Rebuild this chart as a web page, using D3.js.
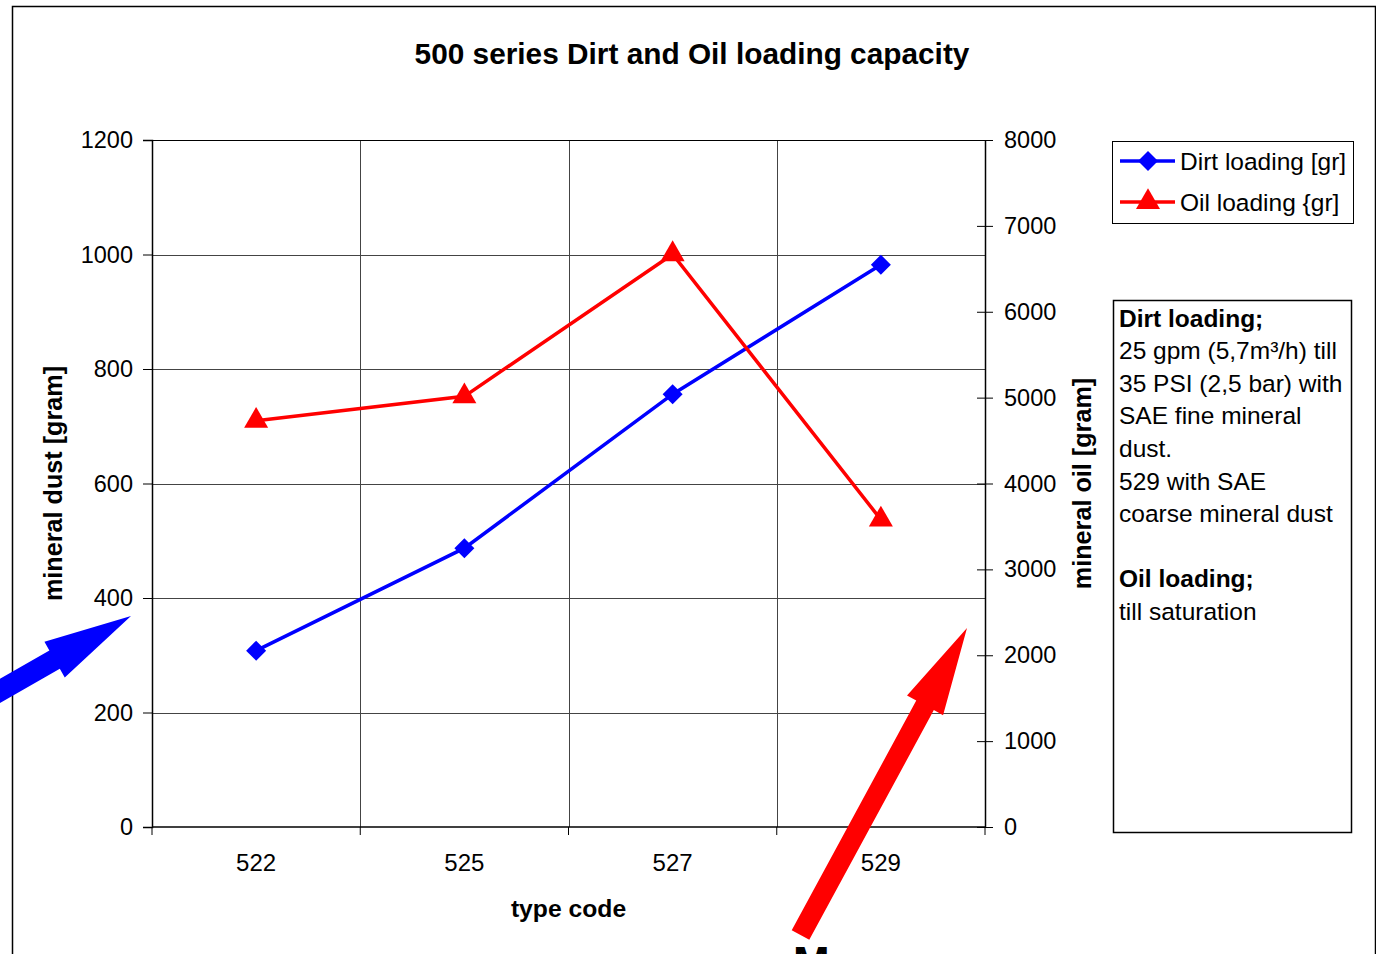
<!DOCTYPE html>
<html>
<head>
<meta charset="utf-8">
<script src="https://cdn.jsdelivr.net/npm/d3@7"></script>
<style>
  body { margin: 0; background: #fff; }
  svg { display: block; font-family: "Liberation Sans", Arial, sans-serif; }
</style>
</head>
<body>
<script>
// Chart data
const typeCodes = ["522", "525", "527", "529"];
const dirtLoading = [308, 487, 756, 982];     // grams, left axis
const oilLoading = [4730, 5015, 6670, 3580];  // grams, right axis
const leftTicks = [0, 200, 400, 600, 800, 1000, 1200];
const rightTicks = [0, 1000, 2000, 3000, 4000, 5000, 6000, 7000, 8000];
const noteLines = [
  { text: "Dirt loading;", bold: true },
  { text: "25 gpm (5,7m\u00b3/h) till", bold: false },
  { text: "35 PSI (2,5 bar) with", bold: false },
  { text: "SAE fine mineral", bold: false },
  { text: "dust.", bold: false },
  { text: "529 with SAE", bold: false },
  { text: "coarse mineral dust", bold: false },
  { text: "", bold: false },
  { text: "Oil loading;", bold: true },
  { text: "till saturation", bold: false }
];

const width = 1376;
const height = 954;
const plot = { left: 152, right: 985, top: 140, bottom: 827 };

const svg = d3.select("body").append("svg")
  .attr("width", width)
  .attr("height", height);

// outer chart frame
svg.append("rect")
  .attr("x", 12.5).attr("y", 6.5)
  .attr("width", 1363).attr("height", 1000)
  .attr("fill", "#fff")
  .attr("stroke", "#000").attr("stroke-width", 1.5);

// scales
const x = d3.scaleBand().domain(typeCodes).range([plot.left, plot.right]);
const yLeft = d3.scaleLinear().domain([0, 1200]).range([plot.bottom, plot.top]);
const yRight = d3.scaleLinear().domain([0, 8000]).range([plot.bottom, plot.top]);
const fmt = d3.format("d");

// gridlines
svg.append("g")
  .selectAll("line")
  .data(leftTicks.filter(d => d > 0))
  .enter().append("line")
  .attr("x1", plot.left).attr("x2", plot.right)
  .attr("y1", d => Math.round(yLeft(d)) + 0.5)
  .attr("y2", d => Math.round(yLeft(d)) + 0.5)
  .attr("stroke", "#444").attr("stroke-width", 1);

svg.append("g")
  .selectAll("line")
  .data(typeCodes.slice(1))
  .enter().append("line")
  .attr("x1", d => Math.round(x(d)) + 0.5)
  .attr("x2", d => Math.round(x(d)) + 0.5)
  .attr("y1", plot.top).attr("y2", plot.bottom)
  .attr("stroke", "#444").attr("stroke-width", 1);

// left axis
const leftAxis = svg.append("g")
  .attr("transform", `translate(${plot.left},0)`)
  .call(d3.axisLeft(yLeft).tickValues(leftTicks).tickFormat(fmt).tickSize(9).tickPadding(10));
leftAxis.select(".domain").attr("stroke", "#000").attr("stroke-width", 1.5);
leftAxis.selectAll("text").style("font-size", "23.5px").attr("fill", "#000");
leftAxis.selectAll(".tick line").attr("stroke", "#000");

// top border of plot
svg.append("line")
  .attr("x1", plot.left).attr("x2", plot.right)
  .attr("y1", plot.top + 0.5).attr("y2", plot.top + 0.5)
  .attr("stroke", "#000").attr("stroke-width", 1);

// right axis (ticks cross the line)
const rightAxis = svg.append("g")
  .attr("transform", `translate(${plot.right},0)`)
  .call(d3.axisRight(yRight).tickValues(rightTicks).tickFormat(fmt).tickSize(0).tickPadding(19));
rightAxis.select(".domain").attr("stroke", "#000").attr("stroke-width", 1.5);
rightAxis.selectAll("text").style("font-size", "23.5px").attr("fill", "#000");
rightAxis.selectAll(".tick").append("line")
  .attr("x1", -8).attr("x2", 8)
  .attr("stroke", "#000");

// bottom axis with ticks at category boundaries
const bottomAxis = svg.append("g")
  .attr("transform", `translate(0,${plot.bottom})`);
bottomAxis.append("line")
  .attr("x1", plot.left).attr("x2", plot.right)
  .attr("stroke", "#000").attr("stroke-width", 1.5);
bottomAxis.selectAll(".bt")
  .data(typeCodes.concat(["end"]))
  .enter().append("line")
  .attr("x1", (d, i) => i < typeCodes.length ? x(d) : plot.right)
  .attr("x2", (d, i) => i < typeCodes.length ? x(d) : plot.right)
  .attr("y1", 0).attr("y2", 8)
  .attr("stroke", "#000");
bottomAxis.selectAll(".lbl")
  .data(typeCodes)
  .enter().append("text")
  .attr("x", d => x(d) + x.bandwidth() / 2)
  .attr("y", 44)
  .attr("text-anchor", "middle")
  .style("font-size", "24px")
  .text(d => d);

// titles
svg.append("text")
  .attr("x", 692).attr("y", 64)
  .attr("text-anchor", "middle")
  .style("font-size", "29.8px").style("font-weight", "bold")
  .text("500 series Dirt and Oil loading capacity");

svg.append("text")
  .attr("x", (plot.left + plot.right) / 2).attr("y", 917)
  .attr("text-anchor", "middle")
  .style("font-size", "24.7px").style("font-weight", "bold")
  .text("type code");

svg.append("text")
  .attr("transform", `translate(62,${(plot.top + plot.bottom) / 2}) rotate(-90)`)
  .attr("text-anchor", "middle")
  .style("font-size", "25.2px").style("font-weight", "bold")
  .text("mineral dust [gram]");

svg.append("text")
  .attr("transform", `translate(1091,${(plot.top + plot.bottom) / 2}) rotate(-90)`)
  .attr("text-anchor", "middle")
  .style("font-size", "25.2px").style("font-weight", "bold")
  .text("mineral oil [gram]");

// series
const cx = d => x(d) + x.bandwidth() / 2;
const dirtData = typeCodes.map((c, i) => ({ code: c, v: dirtLoading[i] }));
const oilData = typeCodes.map((c, i) => ({ code: c, v: oilLoading[i] }));

svg.append("path")
  .datum(dirtData)
  .attr("fill", "none").attr("stroke", "#0000ff").attr("stroke-width", 3.5)
  .attr("d", d3.line().x(d => cx(d.code)).y(d => yLeft(d.v)));

svg.append("path")
  .datum(oilData)
  .attr("fill", "none").attr("stroke", "#ff0000").attr("stroke-width", 3.5)
  .attr("d", d3.line().x(d => cx(d.code)).y(d => yRight(d.v)));

const diamond = d3.symbol().type(d3.symbolSquare).size(200);
const triangle = d3.symbol().type(d3.symbolTriangle).size(250);

svg.selectAll(".dirt")
  .data(dirtData)
  .enter().append("path")
  .attr("transform", d => `translate(${cx(d.code)},${yLeft(d.v)}) rotate(45)`)
  .attr("d", diamond)
  .attr("fill", "#0000ff");

svg.selectAll(".oil")
  .data(oilData)
  .enter().append("path")
  .attr("transform", d => `translate(${cx(d.code)},${yRight(d.v)})`)
  .attr("d", triangle)
  .attr("fill", "#ff0000");

// legend
const legend = svg.append("g");
legend.append("rect")
  .attr("x", 1112.5).attr("y", 141.5)
  .attr("width", 241).attr("height", 82)
  .attr("fill", "#fff").attr("stroke", "#000").attr("stroke-width", 1);

const legendItems = [
  { label: "Dirt loading [gr]", color: "#0000ff", sym: diamond, rot: 45 },
  { label: "Oil loading {gr]", color: "#ff0000", sym: triangle, rot: 0 }
];
legendItems.forEach((it, i) => {
  const ly = 161 + i * 41;
  legend.append("line")
    .attr("x1", 1120).attr("x2", 1175)
    .attr("y1", ly).attr("y2", ly)
    .attr("stroke", it.color).attr("stroke-width", 3.5);
  legend.append("path")
    .attr("transform", `translate(1148,${ly}) rotate(${it.rot})`)
    .attr("d", it.sym)
    .attr("fill", it.color);
  legend.append("text")
    .attr("x", 1180).attr("y", ly + 8.5)
    .style("font-size", "24.5px")
    .text(it.label);
});

// note box
svg.append("rect")
  .attr("x", 1113.5).attr("y", 300.5)
  .attr("width", 238).attr("height", 532)
  .attr("fill", "#fff").attr("stroke", "#000").attr("stroke-width", 1.5);

svg.append("g")
  .selectAll("text")
  .data(noteLines)
  .enter().append("text")
  .attr("x", 1119)
  .attr("y", (d, i) => 326.5 + i * 32.6)
  .style("font-size", "24.5px")
  .style("font-weight", d => d.bold ? "bold" : "normal")
  .text(d => d.text);

// annotation arrows
function arrow(tail, tip, shaft, head, headLen, color) {
  const dx = tip[0] - tail[0], dy = tip[1] - tail[1];
  const len = Math.hypot(dx, dy);
  const ux = dx / len, uy = dy / len;
  const nx = -uy, ny = ux;
  const bx = tip[0] - ux * headLen, by = tip[1] - uy * headLen;
  const pts = [
    [tail[0] + nx * shaft / 2, tail[1] + ny * shaft / 2],
    [bx + nx * shaft / 2, by + ny * shaft / 2],
    [bx + nx * head / 2, by + ny * head / 2],
    tip,
    [bx - nx * head / 2, by - ny * head / 2],
    [bx - nx * shaft / 2, by - ny * shaft / 2],
    [tail[0] - nx * shaft / 2, tail[1] - ny * shaft / 2]
  ];
  svg.append("path")
    .attr("d", d3.line()(pts) + "Z")
    .attr("fill", color);
}
arrow([-30, 708], [131, 616], 21, 41, 88, "#0000ff");
arrow([800.5, 935], [967, 628], 20, 41, 88, "#ff0000");

svg.append("text")
  .attr("x", 793).attr("y", 978)
  .style("font-size", "44px").style("font-weight", "bold")
  .text("M");
</script>
</body>
</html>
